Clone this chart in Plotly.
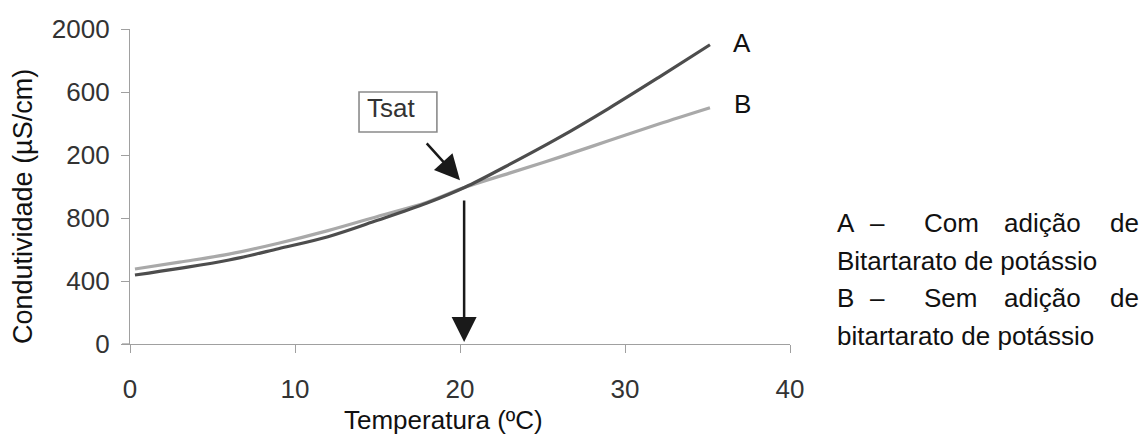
import plotly.graph_objects as go

# ---- data ----
temp_A = [0.3, 3, 6, 9, 12, 15, 18, 20.3, 23, 26, 29, 32, 35.15]
cond_A = [438, 480, 533, 605, 681, 785, 895, 995, 1140, 1310, 1495, 1690, 1900]
temp_B = [0.3, 3, 6, 9, 12, 15, 18, 20.3, 23, 26, 29, 32, 35.15]
cond_B = [476, 520, 571, 640, 720, 810, 900, 995, 1085, 1185, 1290, 1395, 1500]

x_ticks = [0, 10, 20, 30, 40]
y_ticks = [0, 400, 800, 1200, 1600, 2000]
y_ticktext = ["0", "400", "800", "200", "600", "2000"]

tsat_x = 20.25
tsat_y = 995

line1_words = ["A", "–", "Com", "adição", "de"]
line3_words = ["B", "–", "Sem", "adição", "de"]
line2_text = "Bitartarato de potássio"
line4_text = "bitartarato de potássio"

x_title = "Temperatura (ºC)"
y_title = "Condutividade (µS/cm)"

FONT = "Liberation Sans, Arial, sans-serif"
FS = 26

fig = go.Figure()
fig.add_trace(go.Scatter(x=temp_B, y=cond_B, mode="lines", line=dict(color="#a9a9a9", width=3.2, shape="spline"),
                         name="B", showlegend=False, hoverinfo="skip"))
fig.add_trace(go.Scatter(x=temp_A, y=cond_A, mode="lines", line=dict(color="#4d4d4d", width=3.2, shape="spline"),
                         name="A", showlegend=False, hoverinfo="skip"))

W, H = 1140, 436
L, R, T, B = 130, 350, 29, 92
pw, ph = W - L - R, H - T - B

def px(xp):
    return (xp - L) / pw

def py(yp):
    return (H - B - yp) / ph

txt = dict(size=FS, color="#111", family=FONT)
annotations = []
# curve labels
annotations.append(dict(x=37.1, y=1911, xref="x", yref="y", text="A", showarrow=False, font=txt))
annotations.append(dict(x=37.1, y=1524, xref="x", yref="y", text="B", showarrow=False, font=txt))
# Tsat label
annotations.append(dict(x=14.24, y=1498, xref="x", yref="y", text="Tsat", showarrow=False, xanchor="left",
                        yanchor="middle", font=dict(size=FS, color="#333", family=FONT)))
# diagonal arrow
annotations.append(dict(x=tsat_x - 0.25, y=tsat_y + 45, ax=17.9, ay=1283, xref="x", yref="y", axref="x", ayref="y",
                        text="", showarrow=True, arrowhead=2, arrowsize=2.0, arrowwidth=2.5, arrowcolor="#1a1a1a"))
# vertical arrow
annotations.append(dict(x=tsat_x, y=12, ax=tsat_x, ay=tsat_y - 75, xref="x", yref="y", axref="x", ayref="y",
                        text="", showarrow=True, arrowhead=2, arrowsize=2.0, arrowwidth=2.5, arrowcolor="#1a1a1a"))

# axis titles
annotations.append(dict(x=px(443), y=py(420), xref="paper", yref="paper", text=x_title, showarrow=False,
                        xanchor="center", yanchor="middle", font=dict(size=FS, color="#111", family=FONT)))
annotations.append(dict(x=px(23), y=py(207), xref="paper", yref="paper", text=y_title, showarrow=False,
                        textangle=-90, xanchor="center", yanchor="middle",
                        font=dict(size=27, color="#111", family=FONT)))

# right-hand justified text
word_x = [835, 868, 922, 1002, 1108]
for wx, w1, w3 in zip(word_x, line1_words, line3_words):
    annotations.append(dict(x=px(wx), y=py(223), xref="paper", yref="paper", text=w1, showarrow=False,
                            xanchor="left", yanchor="middle", font=txt))
    annotations.append(dict(x=px(wx), y=py(298), xref="paper", yref="paper", text=w3, showarrow=False,
                            xanchor="left", yanchor="middle", font=txt))
annotations.append(dict(x=px(835), y=py(261), xref="paper", yref="paper", text=line2_text, showarrow=False,
                        xanchor="left", yanchor="middle", font=txt))
annotations.append(dict(x=px(835), y=py(336), xref="paper", yref="paper", text=line4_text, showarrow=False,
                        xanchor="left", yanchor="middle", font=txt))

shapes = [
    dict(type="rect", xref="x", yref="y", x0=13.88, x1=18.6, y0=1346, y1=1600,
         line=dict(color="#8a8a8a", width=1.6), fillcolor="white", layer="below"),
    dict(type="line", xref="paper", yref="paper", x0=-8 / pw, x1=0, y0=0, y1=0,
         line=dict(color="#a0a0a0", width=1.3)),
]

fig.update_layout(
    width=W, height=H,
    margin=dict(l=L, r=R, t=T, b=B, pad=0),
    paper_bgcolor="white", plot_bgcolor="white",
    font=dict(family=FONT, size=FS, color="#333"),
    annotations=annotations,
    shapes=shapes,
    showlegend=False,
)
fig.update_xaxes(range=[0, 40], tickvals=x_ticks, ticks="outside", ticklen=8, tickcolor="#a0a0a0", tickwidth=1.3,
                 showline=True, linecolor="#a0a0a0", linewidth=1.3, showgrid=False, zeroline=False,
                 tickfont=dict(size=FS, color="#333", family=FONT), ticklabelstandoff=14)
fig.update_yaxes(range=[0, 2000], tickvals=y_ticks, ticktext=y_ticktext, ticks="outside", ticklen=8,
                 tickcolor="#a0a0a0", tickwidth=1.3, showline=True, linecolor="#a0a0a0", linewidth=1.3,
                 showgrid=False, zeroline=False, tickfont=dict(size=FS, color="#333", family=FONT),
                 ticklabelstandoff=6)

fig.write_html("out.html")
